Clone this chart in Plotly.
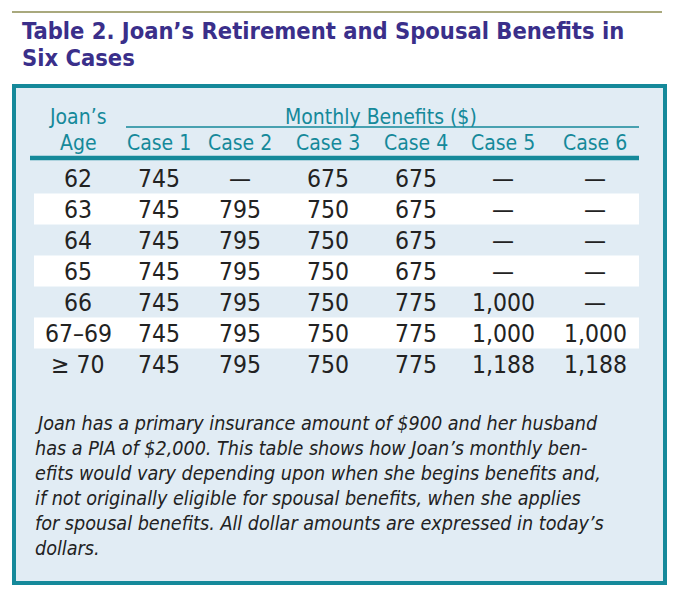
import plotly.graph_objects as go

# table data
ages = ["62", "63", "64", "65", "66", "67–69", "≥ 70"]
case_names = ["Case 1", "Case 2", "Case 3", "Case 4", "Case 5", "Case 6"]
case1 = [745, 745, 745, 745, 745, 745, 745]
case2 = [None, 795, 795, 795, 795, 795, 795]
case3 = [675, 750, 750, 750, 750, 750, 750]
case4 = [675, 675, 675, 675, 775, 775, 775]
case5 = [None, None, None, None, 1000, 1000, 1188]
case6 = [None, None, None, None, None, 1000, 1188]
cases = [case1, case2, case3, case4, case5, case6]

title_lines = ["Table 2. Joan’s Retirement and Spousal Benefits in", "Six Cases"]
note_lines = [
    "Joan has a primary insurance amount of $900 and her husband",
    "has a PIA of $2,000. This table shows how Joan’s monthly ben-",
    "efits would vary depending upon when she begins benefits and,",
    "if not originally eligible for spousal benefits, when she applies",
    "for spousal benefits. All dollar amounts are expressed in today’s",
    "dollars.",
]

TEAL = "#15899a"
PURPLE = "#3a2f8a"
INK = "#222222"
BOX_BG = "#e1ecf4"
COND = "DejaVu Sans Condensed, sans-serif"

col_x = [78, 159, 240, 328, 416, 503, 595]
row_y0, row_h = 178, 31

# page body has an 8px margin, so the figure is drawn 8px smaller and offset
PAD = 8

fig = go.Figure()
shapes = []
ann = []

# olive rule above title
shapes.append(dict(type="line", x0=12, x1=662, y0=12, y1=12,
                   line=dict(color="#8c8c52", width=1.5)))
# box
shapes.append(dict(type="rect", x0=14, x1=665, y0=86, y1=583,
                   fillcolor=BOX_BG, line=dict(color=TEAL, width=4), layer="below"))
# alternating white rows
for i in range(len(ages)):
    if i % 2 == 1:
        yc = row_y0 + i * row_h
        shapes.append(dict(type="rect", x0=34, x1=639, y0=yc - row_h / 2, y1=yc + row_h / 2,
                           fillcolor="white", line=dict(width=0), layer="below"))
# header rules
shapes.append(dict(type="line", x0=126, x1=639, y0=127, y1=127,
                   line=dict(color=TEAL, width=1.5)))
shapes.append(dict(type="line", x0=30, x1=639, y0=158, y1=158,
                   line=dict(color=TEAL, width=4.5)))

# title
for k, t in enumerate(title_lines):
    ann.append(dict(x=20, y=31 + k * 27, text=t, xanchor="left", yanchor="middle",
                    font=dict(family=COND, size=23.5, color=PURPLE, weight="bold")))

# header text
hfont = dict(family=COND, size=21, color=TEAL)
ann.append(dict(x=col_x[0], y=117, text="Joan’s", font=hfont))
ann.append(dict(x=col_x[0], y=143, text="Age", font=hfont))
ann.append(dict(x=381, y=117, text="Monthly Benefits ($)", font=hfont))
for j, name in enumerate(case_names):
    ann.append(dict(x=col_x[j + 1], y=143, text=name, font=hfont))

# body
bfont = dict(family=COND, size=24.5, color=INK)
for i, age in enumerate(ages):
    yc = row_y0 + i * row_h
    ann.append(dict(x=col_x[0], y=yc, text=age, font=bfont))
    for j, vals in enumerate(cases):
        v = vals[i]
        txt = "—" if v is None else f"{v:,}"
        ann.append(dict(x=col_x[j + 1], y=yc, text=txt, font=bfont))

# note
for k, line in enumerate(note_lines):
    ann.append(dict(x=33, y=423 + k * 25, text=f"<i>{line}</i>", xanchor="left",
                    font=dict(family=COND, size=19.6, color=INK)))

for a in ann:
    a.setdefault("xanchor", "center")
    a.setdefault("yanchor", "middle")
    a.update(xref="x", yref="y", showarrow=False)

fig.update_layout(
    width=676 - PAD, height=591 - PAD,
    margin=dict(l=0, r=0, t=0, b=0),
    paper_bgcolor="white", plot_bgcolor="white",
    xaxis=dict(range=[PAD, 676], visible=False, fixedrange=True),
    yaxis=dict(range=[591, PAD], visible=False, fixedrange=True),
    shapes=shapes, annotations=ann, showlegend=False,
)

fig.write_html("out.html", config={"displayModeBar": False})
